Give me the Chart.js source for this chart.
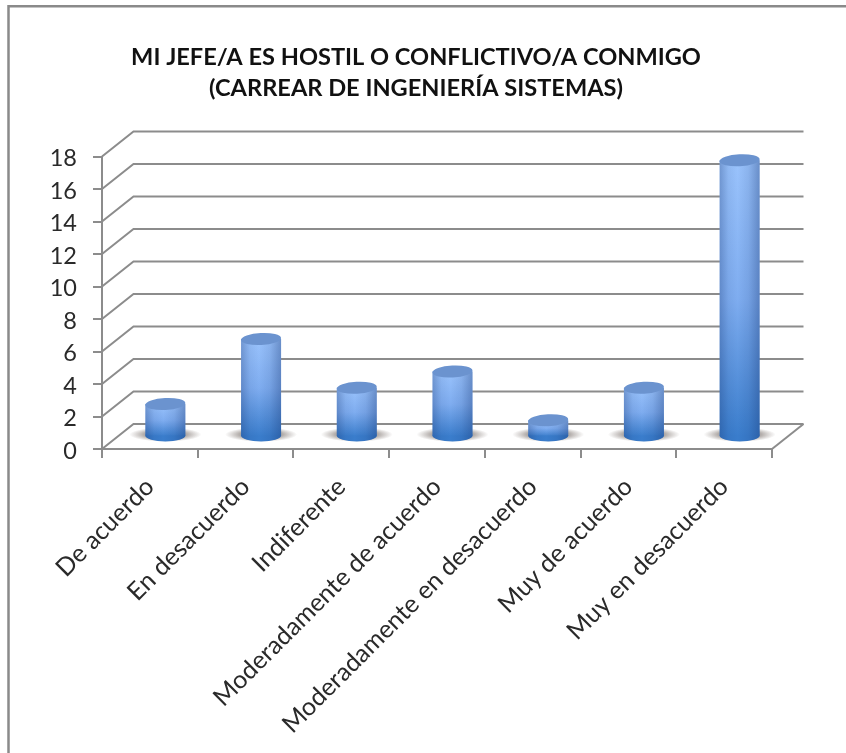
<!DOCTYPE html>
<html>
<head>
<meta charset="utf-8">
<script src="https://cdn.jsdelivr.net/npm/chart.js@4"></script>
<style>
  html, body { margin: 0; padding: 0; background: #fff; }
  #wrap { width: 846px; height: 753px; }
  #chart { filter: blur(0.4px); }
</style>
</head>
<body>
<div id="wrap"><canvas id="chart" width="846" height="753"></canvas></div>
<script>
var titleLines = ['MI JEFE/A ES HOSTIL O CONFLICTIVO/A CONMIGO', '(CARREAR DE INGENIERÍA SISTEMAS)'];
var categories = ['De acuerdo', 'En desacuerdo', 'Indiferente', 'Moderadamente de acuerdo',
  'Moderadamente en desacuerdo', 'Muy de acuerdo', 'Muy en desacuerdo'];
var values = [2, 6, 3, 4, 1, 3, 17];

var lineColor = '#8c8c8c';
var depthX = 31.5, depthY = 25;   // back wall offset
var barShift = 15.5, barLift = 12.5; // bars stand mid-floor
var capRy = 6;
var capTilt = -0.05;

var walls = {
  id: 'walls',
  afterLayout: function (chart) {
    // title is centred a bit left of the page centre
    chart.titleBlock.left += 60;
  },
  beforeDraw: function (chart) {
    var c = chart.ctx;
    c.save();
    c.strokeStyle = '#8a8a8a';
    c.lineWidth = 2.5;
    c.beginPath();
    c.moveTo(8.5, 753);
    c.lineTo(8.5, 6.2);
    c.lineTo(846, 6.2);
    c.stroke();
    c.restore();
  },
  beforeDatasetsDraw: function (chart) {
    var c = chart.ctx, y = chart.scales.y, a = chart.chartArea;
    c.save();
    c.strokeStyle = lineColor;
    c.lineWidth = 2;
    y.ticks.forEach(function (t) {
      var py = y.getPixelForValue(t.value);
      c.beginPath();
      c.moveTo(a.left, py);
      c.lineTo(a.left + depthX, py - depthY);
      c.lineTo(a.right + depthX, py - depthY);
      c.stroke();
    });
    c.beginPath();
    c.moveTo(a.right, a.bottom);
    c.lineTo(a.right + depthX, a.bottom - depthY);
    c.stroke();
    c.restore();
  }
};

var cylinders = {
  id: 'cylinders',
  beforeDatasetDraw: function (chart, args) {
    var c = chart.ctx;
    var bars = chart.getDatasetMeta(args.index).data;
    c.save();
    c.translate(barShift, -barLift);
    bars.forEach(function (b) {
      var rx = b.width / 2;
      // floor shadow
      c.save();
      c.translate(b.x, b.base - 1);
      c.scale(1, 0.2);
      var g = c.createRadialGradient(0, 0, rx * 0.4, 0, 0, rx * 1.8);
      g.addColorStop(0, 'rgba(105,95,90,0.85)');
      g.addColorStop(0.5, 'rgba(120,110,105,0.55)');
      g.addColorStop(1, 'rgba(130,120,115,0)');
      c.fillStyle = g;
      c.beginPath();
      c.arc(0, 0, rx * 1.8, 0, Math.PI * 2);
      c.fill();
      c.restore();
      // bottom of the cylinder
      c.fillStyle = '#3a7dcc';
      c.beginPath();
      c.ellipse(b.x, b.base, rx, capRy, 0, 0, Math.PI * 2);
      c.fill();
    });
  },
  afterDatasetDraw: function (chart, args) {
    var c = chart.ctx;
    var bars = chart.getDatasetMeta(args.index).data;
    bars.forEach(function (b) {
      var rx = b.width / 2;
      var side = c.createLinearGradient(b.x - rx, 0, b.x + rx, 0);
      side.addColorStop(0, 'rgba(20,50,110,0.3)');
      side.addColorStop(0.22, 'rgba(20,50,110,0.07)');
      side.addColorStop(0.45, 'rgba(20,50,110,0)');
      side.addColorStop(0.72, 'rgba(20,50,110,0.1)');
      side.addColorStop(1, 'rgba(20,50,110,0.36)');
      c.fillStyle = side;
      c.beginPath();
      c.moveTo(b.x - rx, b.y);
      c.lineTo(b.x - rx, b.base);
      c.ellipse(b.x, b.base, rx, capRy, 0, Math.PI, 0, true);
      c.lineTo(b.x + rx, b.y);
      c.closePath();
      c.fill();
      // top cap
      c.fillStyle = '#6b93cf';
      c.beginPath();
      c.ellipse(b.x, b.y, rx, capRy, capTilt, 0, Math.PI * 2);
      c.fill();
    });
    c.restore();
  }
};

function barFill(ctx) {
  if (ctx.type !== 'data') return '#77a6ea';
  var chart = ctx.chart;
  var top = chart.scales.y.getPixelForValue(ctx.raw);
  var base = chart.scales.y.getPixelForValue(0);
  if (!isFinite(top) || !isFinite(base)) return '#77a6ea';
  var g = chart.ctx.createLinearGradient(0, top, 0, base);
  g.addColorStop(0, '#9ac3fc');
  g.addColorStop(0.5, '#7fadf0');
  g.addColorStop(1, '#3a7dcc');
  return g;
}

new Chart(document.getElementById('chart'), {
  type: 'bar',
  data: {
    labels: categories,
    datasets: [{
      label: 'Respuestas',
      data: values,
      backgroundColor: barFill,
      borderWidth: 0,
      barPercentage: 0.418,
      categoryPercentage: 1
    }]
  },
  plugins: [walls, cylinders],
  options: {
    responsive: false,
    animation: false,
    layout: { padding: { left: 0, right: 74, top: 0, bottom: 0 } },
    plugins: {
      legend: { display: false },
      tooltip: { enabled: false },
      title: {
        display: true,
        text: titleLines,
        color: '#111',
        font: { family: 'Lato', size: 23.6, weight: 'bold', lineHeight: 1.32 },
        padding: { top: 42, bottom: 52.2 }
      }
    },
    scales: {
      x: {
        afterFit: function (s) { s.height = 304; },
        border: { color: lineColor, width: 2 },
        grid: { drawOnChartArea: false, color: lineColor, lineWidth: 2, tickLength: 9 },
        ticks: {
          color: '#2a2a2a',
          font: { family: 'Lato', size: 25 },
          minRotation: 45,
          maxRotation: 45,
          autoSkip: false,
          padding: 14
        }
      },
      y: {
        min: 0,
        max: 18,
        afterFit: function (s) { s.width = 102; },
        border: { color: lineColor, width: 2 },
        grid: { drawOnChartArea: false, color: lineColor, lineWidth: 2, tickLength: 9 },
        ticks: {
          stepSize: 2,
          color: '#2a2a2a',
          font: { family: 'Lato', size: 23.5 },
          padding: 16,
          labelOffset: 2
        }
      }
    }
  }
});
</script>
</body>
</html>
